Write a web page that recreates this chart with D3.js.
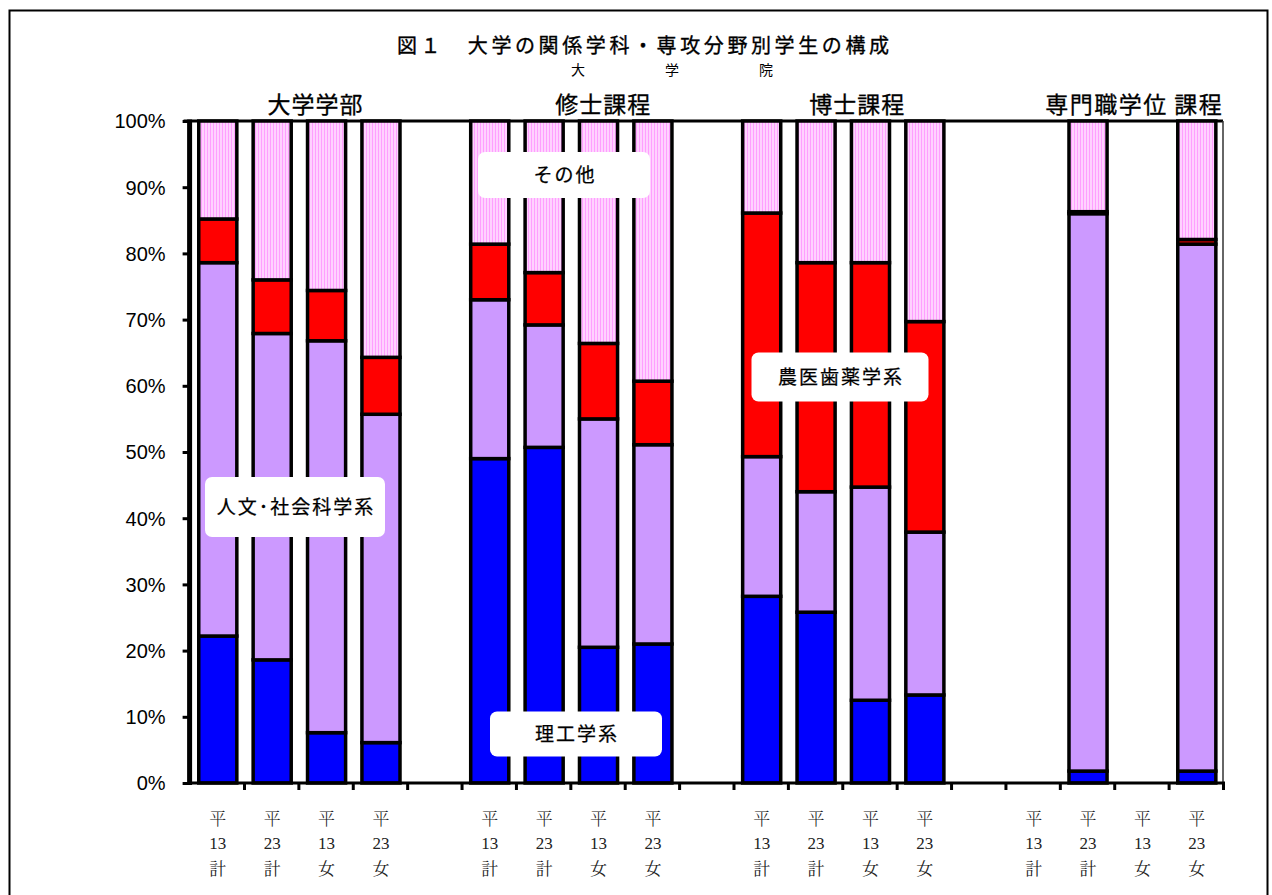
<!DOCTYPE html>
<html lang="ja">
<head>
<meta charset="utf-8">
<script src="https://cdn.jsdelivr.net/npm/d3@7"></script>
<style>
  html, body { margin: 0; padding: 0; background: #fff; }
  svg { display: block; }
</style>
</head>
<body>
<svg id="chart" width="1272" height="895"></svg>
<script>
// Slots along the x axis: four bars per course, blank slot between courses
const slotYears = ["13","23","13","23","", "13","23","13","23","", "13","23","13","23","", "13","23","13","23"];
const slotKinds = ["計","計","女","女","", "計","計","女","女","", "計","計","女","女","", "計","計","女","女"];

// Share of students by field (%), bottom to top
const rikou  = [22.2, 18.6,  7.6,  6.1, null, 49.0, 50.7, 20.5, 21.0, null, 28.2, 25.8, 12.5, 13.3, null, null,  1.8, null,  1.8];
const jinbun = [56.4, 49.3, 59.2, 49.6, null, 24.0, 18.5, 34.5, 30.1, null, 21.1, 18.2, 32.2, 24.6, null, null, 84.2, null, 79.6];
const noui   = [ 6.6,  8.1,  7.6,  8.6, null,  8.4,  7.9, 11.4,  9.6, null, 36.8, 34.6, 33.9, 31.8, null, null,  0.3, null,  0.7];
const sonota = [14.8, 24.0, 25.6, 35.7, null, 18.6, 22.9, 33.6, 39.3, null, 13.9, 21.4, 21.4, 30.3, null, null, 13.7, null, 17.9];

const seriesNames = ["理工学系", "人文・社会科学系", "農医歯薬学系", "その他"];
const seriesColors = ["#0000ff", "#cc99ff", "#ff0000", "url(#pinkStripe)"];

const groupNames = ["大学学部", "修士課程", "博士課程", "専門職学位 課程"];
const groupSlots = [[0, 3], [5, 8], [10, 13], [15, 18]];
const yTicks = [0, 10, 20, 30, 40, 50, 60, 70, 80, 90, 100];

const svg = d3.select("#chart");
const defs = svg.append("defs");
const pat = defs.append("pattern")
  .attr("id", "pinkStripe").attr("patternUnits", "userSpaceOnUse")
  .attr("width", 3).attr("height", 6);
pat.append("rect").attr("width", 3).attr("height", 6).attr("fill", "#ffd2ff");
pat.append("rect").attr("width", 1).attr("height", 6).attr("fill", "#ff9fff");

// outer frame
svg.append("rect").attr("x", 9.5).attr("y", 10.5).attr("width", 1258).attr("height", 900)
  .attr("fill", "none").attr("stroke", "#000").attr("stroke-width", 2);

const plot = { left: 189.6, right: 1223, top: 121, bottom: 783 };

const slotIdx = d3.range(slotYears.length);
const x = d3.scaleBand().domain(slotIdx).range([plot.left, plot.right]).paddingInner(0.3).paddingOuter(0.15);
const xEdge = d3.scaleLinear().domain([0, slotYears.length]).range([plot.left, plot.right]);
const y = d3.scaleLinear().domain([0, 100]).range([plot.bottom, plot.top]);

// stacked data
const rows = slotIdx.map(i => ({
  i, empty: rikou[i] == null,
  "理工学系": rikou[i] || 0, "人文・社会科学系": jinbun[i] || 0,
  "農医歯薬学系": noui[i] || 0, "その他": sonota[i] || 0
}));
const stacked = d3.stack().keys(seriesNames)(rows.filter(r => !r.empty));

// top frame line and right frame line
svg.append("line").attr("x1", plot.left - 6).attr("x2", plot.right)
  .attr("y1", plot.top).attr("y2", plot.top).attr("stroke", "#000").attr("stroke-width", 3);
svg.append("line").attr("x1", plot.right).attr("x2", plot.right)
  .attr("y1", plot.top).attr("y2", plot.bottom).attr("stroke", "#333").attr("stroke-width", 1.5);

// bars
const layers = svg.append("g").selectAll("g").data(stacked).join("g")
  .attr("fill", (d, k) => seriesColors[k]);
layers.selectAll("rect").data(d => d).join("rect")
  .attr("x", d => x(d.data.i) + 1)
  .attr("width", x.bandwidth())
  .attr("y", d => y(d[1]))
  .attr("height", d => y(d[0]) - y(d[1]))
  .attr("stroke", "#000").attr("stroke-width", 3.5);

// y axis
const yAxis = svg.append("g").attr("transform", `translate(${plot.left},0)`)
  .call(d3.axisLeft(y).tickValues(yTicks).tickFormat(d => d + "%").tickSize(7).tickPadding(17));
yAxis.select(".domain").remove();
yAxis.selectAll(".tick line").attr("stroke", "#000").attr("stroke-width", 3);
yAxis.selectAll(".tick text").attr("font-family", "Liberation Sans, Arial, sans-serif")
  .attr("font-size", 20).attr("fill", "#000").attr("dy", "0.34em");
svg.append("line").attr("x1", plot.left).attr("x2", plot.left)
  .attr("y1", plot.top - 1.5).attr("y2", plot.bottom + 2).attr("stroke", "#000").attr("stroke-width", 5);

// x axis with tick marks at slot edges
const xAxis = svg.append("g").attr("transform", `translate(0,${plot.bottom})`)
  .call(d3.axisBottom(xEdge).tickValues(d3.range(1, slotYears.length + 1)).tickFormat("").tickSize(7));
xAxis.select(".domain").remove();
xAxis.selectAll(".tick line").attr("stroke", "#000").attr("stroke-width", 3);
svg.append("line").attr("x1", plot.left).attr("x2", plot.right + 2)
  .attr("y1", plot.bottom).attr("y2", plot.bottom).attr("stroke", "#000").attr("stroke-width", 3);

// category labels (three lines each)
const labelFont = "Liberation Serif, 'Noto Serif CJK JP', 'Noto Sans CJK JP', serif";
const lab = svg.append("g").attr("font-family", labelFont).attr("font-size", 17)
  .attr("text-anchor", "middle").attr("fill", "#222");
slotIdx.filter(i => slotYears[i] !== "").forEach(i => {
  const cx = x(i) + 1 + x.bandwidth() / 2;
  lab.append("text").attr("x", cx).attr("y", 825).attr("font-weight", 300).text("平");
  lab.append("text").attr("x", cx).attr("y", 849).text(slotYears[i]);
  lab.append("text").attr("x", cx).attr("y", 875).text(slotKinds[i]);
});

// titles
const sans = "'Noto Sans CJK JP', sans-serif";
svg.append("text").attr("x", 397).attr("y", 53).attr("font-family", sans)
  .attr("font-size", 20).attr("letter-spacing", 3.6).attr("fill", "#000")
  .attr("stroke", "#000").attr("stroke-width", 0.35)
  .text("図１　大学の関係学科・専攻分野別学生の構成");
["大", "学", "院"].forEach((c, k) => {
  svg.append("text").attr("x", 578 + k * 94).attr("y", 75).attr("font-family", sans)
    .attr("font-size", 14).attr("text-anchor", "middle").text(c);
});

// course headings
const headCenters = groupSlots.map(([a, b]) => (x(a) + x(b) + x.bandwidth()) / 2);
const headOffsets = [17, 33, 15, 20];
svg.append("g").selectAll("text").data(groupNames).join("text")
  .attr("x", (d, k) => headCenters[k] + headOffsets[k])
  .attr("y", 113).attr("text-anchor", "middle")
  .attr("font-family", sans).attr("font-size", 23)
  .attr("stroke", "#000").attr("stroke-width", 0.3)
  .attr("letter-spacing", (d, k) => k === 3 ? 1.5 : 1)
  .attr("fill", "#000").text(d => d);

// field callouts
const callouts = [
  { text: "その他", cx: 564, cy: 175, w: 172, h: 46 },
  { text: "人文･社会科学系", cx: 295, cy: 507, w: 180, h: 60 },
  { text: "農医歯薬学系", cx: 840, cy: 377, w: 177, h: 49 },
  { text: "理工学系", cx: 576, cy: 734, w: 172, h: 45 }
];
const cg = svg.append("g");
callouts.forEach(c => {
  cg.append("rect").attr("x", c.cx - c.w / 2).attr("y", c.cy - c.h / 2)
    .attr("width", c.w).attr("height", c.h).attr("rx", 7).attr("fill", "#fff");
  cg.append("text").attr("x", c.cx + 1).attr("y", c.cy).attr("dy", "0.35em")
    .attr("text-anchor", "middle").attr("font-family", sans).attr("font-size", 19)
    .attr("stroke", "#000").attr("stroke-width", 0.25)
    .attr("letter-spacing", 2).attr("fill", "#000").text(c.text);
});
</script>
</body>
</html>
